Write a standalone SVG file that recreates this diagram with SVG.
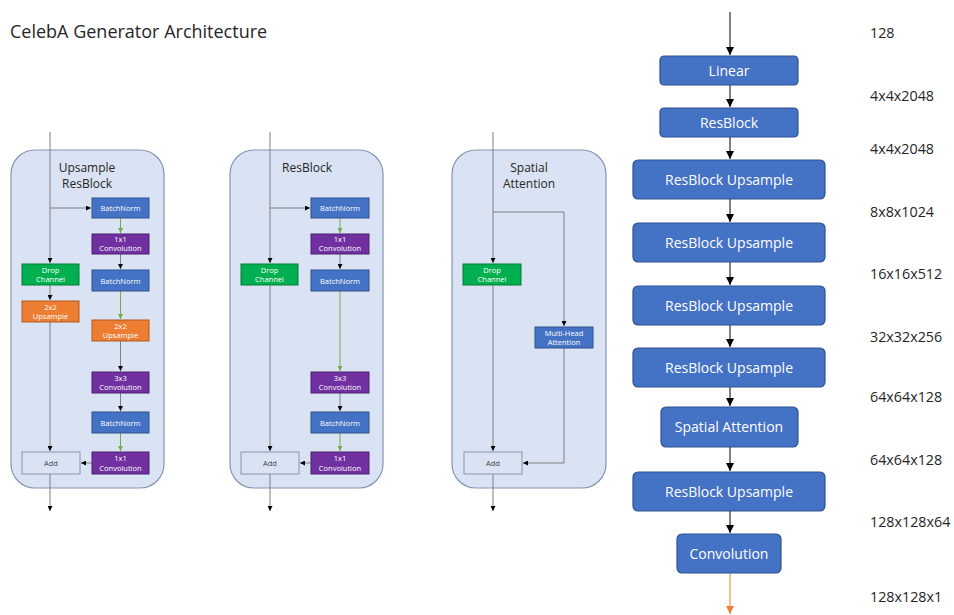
<svg xmlns="http://www.w3.org/2000/svg" width="954" height="615" viewBox="0 0 954 615">
  <style>
    text { font-family: "Open Sans", "Noto Sans", "Liberation Sans", sans-serif; }
    .panel { fill: #dae3f3; stroke: #8497b0; stroke-width: 1.2; }
    .title { font-size: 12px; fill: #262626; text-anchor: middle; }
    .blue { fill: #4472c4; stroke: #2f528f; }
    .purple { fill: #7030a0; stroke: #4b2070; }
    .green { fill: #00b050; stroke: #007a37; }
    .orange { fill: #ed7d31; stroke: #ae5a21; }
    .add { fill: #dae3f3; stroke: #8497b0; }
    .bt { font-size: 7.5px; fill: #ffffff; text-anchor: middle; }
    .at { font-size: 7.5px; fill: #404040; text-anchor: middle; }
    .big { fill: #4472c4; stroke: #2f528f; stroke-width: 1.2; }
    .bigt { font-size: 14px; fill: #ffffff; text-anchor: middle; }
    .dim { font-size: 14.3px; fill: #262626; }
    .cg { fill: none; stroke: #7f7f7f; stroke-width: 1; }
    .cgr { fill: none; stroke: #70ad47; stroke-width: 1; }
    .ck { fill: none; stroke: #000000; stroke-width: 1; }
    .co { fill: none; stroke: #ed7d31; stroke-width: 1; }
  </style>
  <defs>
    <marker id="ak" viewBox="0 0 10 10" refX="10" refY="5" markerWidth="5" markerHeight="5" markerUnits="userSpaceOnUse" orient="auto">
      <path d="M0,0 L10,5 L0,10 z" fill="#000000"/>
    </marker>
    <marker id="ag" viewBox="0 0 10 10" refX="10" refY="5" markerWidth="5" markerHeight="5" markerUnits="userSpaceOnUse" orient="auto">
      <path d="M0,0 L10,5 L0,10 z" fill="#70ad47"/>
    </marker>
    <marker id="aK" viewBox="0 0 10 10" refX="10" refY="5" markerWidth="8" markerHeight="8" markerUnits="userSpaceOnUse" orient="auto">
      <path d="M0,0 L10,5 L0,10 z" fill="#000000"/>
    </marker>
    <marker id="aO" viewBox="0 0 10 10" refX="10" refY="5" markerWidth="8" markerHeight="8" markerUnits="userSpaceOnUse" orient="auto">
      <path d="M0,0 L10,5 L0,10 z" fill="#ed7d31"/>
    </marker>
  </defs>

  <text x="10" y="38" style="font-size:18px;fill:#262626">CelebA Generator Architecture</text>

  <!-- block panels -->
  <g id="panel-upsample-resblock">
    <rect class="panel" x="11" y="150" width="153" height="338" rx="24"/>
    <text class="title" x="87" y="172">Upsample</text>
    <text class="title" x="87" y="188">ResBlock</text>
  </g>
  <g id="panel-resblock">
    <rect class="panel" x="230" y="150" width="153" height="338" rx="24"/>
    <text class="title" x="307" y="172">ResBlock</text>
  </g>
  <g id="panel-spatial-attention">
    <rect class="panel" x="452" y="150" width="154" height="338" rx="24"/>
    <text class="title" x="529" y="172">Spatial</text>
    <text class="title" x="529" y="188">Attention</text>
  </g>

  <!-- connectors -->
  <g id="connectors">
    <!-- Upsample ResBlock -->
    <path class="cg" d="M50,132 V263" marker-end="url(#ak)"/>
    <path class="cg" d="M50,208 H91" marker-end="url(#ak)"/>
    <path class="cgr" d="M120.5,218 V233" marker-end="url(#ag)"/>
    <path class="cg" d="M120.5,254 V269" marker-end="url(#ak)"/>
    <path class="cgr" d="M120.5,291 V319" marker-end="url(#ag)"/>
    <path class="cg" d="M120.5,341 V371" marker-end="url(#ak)"/>
    <path class="cg" d="M120.5,393 V411" marker-end="url(#ak)"/>
    <path class="cgr" d="M120.5,433 V451" marker-end="url(#ag)"/>
    <path class="cg" d="M92,463 H81" marker-end="url(#ak)"/>
    <path class="cg" d="M50,285 V300" marker-end="url(#ak)"/>
    <path class="cg" d="M50,322 V451" marker-end="url(#ak)"/>
    <path class="cg" d="M50,474 V511" marker-end="url(#ak)"/>

    <!-- ResBlock -->
    <path class="cg" d="M270,132 V263" marker-end="url(#ak)"/>
    <path class="cg" d="M270,208 H310" marker-end="url(#ak)"/>
    <path class="cgr" d="M340,218 V233" marker-end="url(#ag)"/>
    <path class="cg" d="M340,254 V269" marker-end="url(#ak)"/>
    <path class="cgr" d="M340,291 V371" marker-end="url(#ag)"/>
    <path class="cg" d="M340,393 V411" marker-end="url(#ak)"/>
    <path class="cgr" d="M340,433 V451" marker-end="url(#ag)"/>
    <path class="cg" d="M311,463 H300" marker-end="url(#ak)"/>
    <path class="cg" d="M270,285 V451" marker-end="url(#ak)"/>
    <path class="cg" d="M270,474 V511" marker-end="url(#ak)"/>

    <!-- Spatial Attention -->
    <path class="cg" d="M493,132 V263" marker-end="url(#ak)"/>
    <path class="cg" d="M493,212 H564 V326" marker-end="url(#ak)"/>
    <path class="cg" d="M493,285 V451" marker-end="url(#ak)"/>
    <path class="cg" d="M564,348 V463 H523" marker-end="url(#ak)"/>
    <path class="cg" d="M493,474 V511" marker-end="url(#ak)"/>

    <!-- generator column -->
    <path class="ck" d="M730,12 V55" marker-end="url(#aK)"/>
    <path class="ck" d="M730,85 V107" marker-end="url(#aK)"/>
    <path class="ck" d="M730,137 V159" marker-end="url(#aK)"/>
    <path class="ck" d="M730,199 V222" marker-end="url(#aK)"/>
    <path class="ck" d="M730,262 V285" marker-end="url(#aK)"/>
    <path class="ck" d="M730,325 V347" marker-end="url(#aK)"/>
    <path class="ck" d="M730,387 V406" marker-end="url(#aK)"/>
    <path class="ck" d="M730,447 V471" marker-end="url(#aK)"/>
    <path class="ck" d="M730,511 V533" marker-end="url(#aK)"/>
    <path class="co" d="M730,573 V614" marker-end="url(#aO)"/>
  </g>

  <!-- Upsample ResBlock nodes -->
  <g id="u-bn1"><rect class="blue" x="92" y="198" width="57" height="20"/><text class="bt" x="120.5" y="211">BatchNorm</text></g>
  <g id="u-conv1"><rect class="purple" x="92" y="234" width="57" height="20"/><text class="bt" x="120.5" y="242">1x1</text><text class="bt" x="120.5" y="251">Convolution</text></g>
  <g id="u-bn2"><rect class="blue" x="92" y="270" width="57" height="21"/><text class="bt" x="120.5" y="283.5">BatchNorm</text></g>
  <g id="u-up2"><rect class="orange" x="92" y="320" width="57" height="21"/><text class="bt" x="120.5" y="328.5">2x2</text><text class="bt" x="120.5" y="338">Upsample</text></g>
  <g id="u-conv3"><rect class="purple" x="92" y="372" width="57" height="21"/><text class="bt" x="120.5" y="380.5">3x3</text><text class="bt" x="120.5" y="390">Convolution</text></g>
  <g id="u-bn3"><rect class="blue" x="92" y="412" width="57" height="21"/><text class="bt" x="120.5" y="425.5">BatchNorm</text></g>
  <g id="u-conv1b"><rect class="purple" x="92" y="452" width="57" height="22"/><text class="bt" x="120.5" y="461">1x1</text><text class="bt" x="120.5" y="471">Convolution</text></g>
  <g id="u-drop"><rect class="green" x="22" y="264" width="57" height="21"/><text class="bt" x="50.5" y="272.5">Drop</text><text class="bt" x="50.5" y="282">Channel</text></g>
  <g id="u-up1"><rect class="orange" x="22" y="301" width="57" height="21"/><text class="bt" x="50.5" y="309.5">2x2</text><text class="bt" x="50.5" y="319">Upsample</text></g>
  <g id="u-add"><rect class="add" x="22" y="452" width="58" height="22"/><text class="at" x="51" y="466">Add</text></g>

  <!-- ResBlock nodes -->
  <g id="r-bn1"><rect class="blue" x="311" y="198" width="58" height="20"/><text class="bt" x="340" y="211">BatchNorm</text></g>
  <g id="r-conv1"><rect class="purple" x="311" y="234" width="58" height="20"/><text class="bt" x="340" y="242">1x1</text><text class="bt" x="340" y="251">Convolution</text></g>
  <g id="r-bn2"><rect class="blue" x="311" y="270" width="58" height="21"/><text class="bt" x="340" y="283.5">BatchNorm</text></g>
  <g id="r-conv3"><rect class="purple" x="311" y="372" width="58" height="21"/><text class="bt" x="340" y="380.5">3x3</text><text class="bt" x="340" y="390">Convolution</text></g>
  <g id="r-bn3"><rect class="blue" x="311" y="412" width="58" height="21"/><text class="bt" x="340" y="425.5">BatchNorm</text></g>
  <g id="r-conv1b"><rect class="purple" x="311" y="452" width="58" height="22"/><text class="bt" x="340" y="461">1x1</text><text class="bt" x="340" y="471">Convolution</text></g>
  <g id="r-drop"><rect class="green" x="241" y="264" width="57" height="21"/><text class="bt" x="269.5" y="272.5">Drop</text><text class="bt" x="269.5" y="282">Channel</text></g>
  <g id="r-add"><rect class="add" x="241" y="452" width="58" height="22"/><text class="at" x="270" y="466">Add</text></g>

  <!-- Spatial Attention nodes -->
  <g id="s-drop"><rect class="green" x="463" y="264" width="58" height="21"/><text class="bt" x="492" y="272.5">Drop</text><text class="bt" x="492" y="282">Channel</text></g>
  <g id="s-mha"><rect class="blue" x="535" y="327" width="58" height="21"/><text class="bt" x="564" y="335.5">Multi-Head</text><text class="bt" x="564" y="345">Attention</text></g>
  <g id="s-add"><rect class="add" x="464" y="452" width="58" height="22"/><text class="at" x="493" y="466">Add</text></g>

  <!-- generator column nodes -->
  <g id="g-linear"><rect class="big" x="660" y="56" width="138" height="29" rx="4"/><text class="bigt" x="729" y="75.5">Linear</text></g>
  <g id="g-resblock"><rect class="big" x="660" y="108" width="138" height="29" rx="4"/><text class="bigt" x="729" y="127.5">ResBlock</text></g>
  <g id="g-up1"><rect class="big" x="633" y="160" width="192" height="39" rx="5"/><text class="bigt" x="729" y="184.5">ResBlock Upsample</text></g>
  <g id="g-up2"><rect class="big" x="633" y="223" width="192" height="39" rx="5"/><text class="bigt" x="729" y="247.5">ResBlock Upsample</text></g>
  <g id="g-up3"><rect class="big" x="633" y="286" width="192" height="39" rx="5"/><text class="bigt" x="729" y="310.5">ResBlock Upsample</text></g>
  <g id="g-up4"><rect class="big" x="633" y="348" width="192" height="39" rx="5"/><text class="bigt" x="729" y="372.5">ResBlock Upsample</text></g>
  <g id="g-attn"><rect class="big" x="661" y="407" width="137" height="40" rx="5"/><text class="bigt" x="729" y="432">Spatial Attention</text></g>
  <g id="g-up5"><rect class="big" x="633" y="472" width="192" height="39" rx="5"/><text class="bigt" x="729" y="496.5">ResBlock Upsample</text></g>
  <g id="g-conv"><rect class="big" x="677" y="534" width="104" height="39" rx="5"/><text class="bigt" x="729" y="558.5">Convolution</text></g>

  <!-- tensor shapes -->
  <g id="shapes">
    <text class="dim" x="870" y="38">128</text>
    <text class="dim" x="870" y="101">4x4x2048</text>
    <text class="dim" x="870" y="154">4x4x2048</text>
    <text class="dim" x="870" y="217">8x8x1024</text>
    <text class="dim" x="870" y="279">16x16x512</text>
    <text class="dim" x="870" y="342">32x32x256</text>
    <text class="dim" x="870" y="402">64x64x128</text>
    <text class="dim" x="870" y="465">64x64x128</text>
    <text class="dim" x="870" y="527">128x128x64</text>
    <text class="dim" x="870" y="602">128x128x1</text>
  </g>
</svg>
